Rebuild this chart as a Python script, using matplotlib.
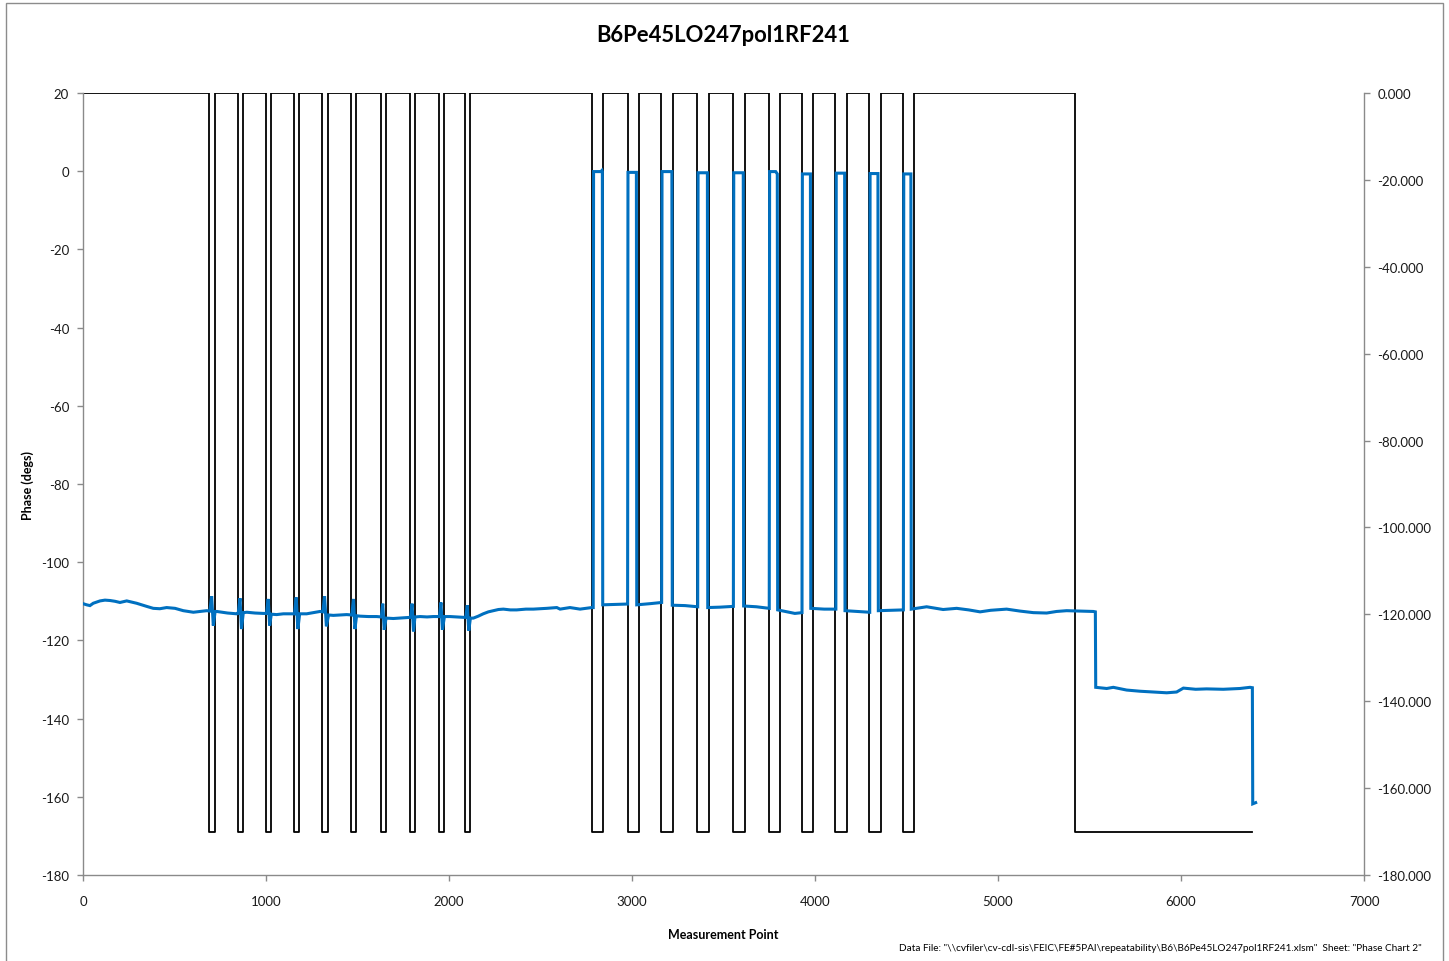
import matplotlib
matplotlib.use("Agg")
import matplotlib.pyplot as plt
from matplotlib.patches import Rectangle
from matplotlib.ticker import FormatStrFormatter

plt.rcParams['font.family'] = ['Lato', 'DejaVu Sans']
plt.rcParams['axes.unicode_minus'] = False

# ---------------- data ----------------
title = "B6Pe45LO247pol1RF241"
x_label = "Measurement Point"
y_label = "Phase (degs)"
footer = ('Data File: "\\\\cvfiler\\cv-cdl-sis\\FEIC\\FE#5PAI\\repeatability\\B6\\'
          'B6Pe45LO247pol1RF241.xlsm"  Sheet: "Phase Chart 2"')

# secondary (right axis) square wave: low intervals (start, end)
switch_high = 0.0
switch_low = -170.0
switch_low_start = [690, 845, 1000, 1153, 1308, 1466, 1627, 1787, 1945, 2089,
                    2783, 2976, 3160, 3357, 3552, 3750, 3927, 4111, 4297, 4479,
                    5421]
switch_low_end = [723, 874, 1027, 1182, 1340, 1493, 1654, 1812, 1973, 2115,
                  2843, 3038, 3226, 3419, 3617, 3809, 3991, 4177, 4359, 4541,
                  6388]

# primary (left axis) phase trace
phase_x = [0, 20, 38, 56, 93, 120, 148, 175, 202, 239, 265, 293, 320, 348, 384,
           420, 457, 480, 503, 548, 603, 640, 676,
           693, 703, 712, 722, 731, 790, 840,
           848, 858, 866, 876, 895, 940, 985,
           1003, 1012, 1020, 1029, 1058, 1095, 1131,
           1156, 1165, 1174, 1184, 1222, 1260, 1295,
           1311, 1320, 1330, 1342, 1368, 1405, 1441,
           1469, 1478, 1486, 1495, 1514, 1560, 1605,
           1630, 1638, 1646, 1656, 1696, 1730, 1769,
           1790, 1798, 1806, 1814, 1842, 1880, 1914,
           1948, 1956, 1964, 1975, 2005, 2040, 2078,
           2092, 2100, 2108, 2117, 2133, 2160, 2187, 2215, 2242, 2270, 2297,
           2335, 2370, 2420, 2461, 2500, 2534, 2589, 2607, 2661, 2716, 2780,
           2788, 2790, 2830, 2836, 2838, 2840, 2900, 2976,
           2978, 3024, 3026, 3100, 3162,
           3164, 3218, 3220, 3290, 3359,
           3361, 3412, 3414, 3480, 3554,
           3556, 3608, 3610, 3680, 3750,
           3752, 3785, 3794, 3796, 3860, 3890, 3929,
           3931, 3975, 3977, 4050, 4114,
           4116, 4162, 4164, 4230, 4299,
           4301, 4344, 4346, 4420, 4483,
           4485, 4524, 4526, 4610, 4700, 4774, 4840, 4902, 4960, 5047, 5120,
           5193, 5266, 5320, 5375, 5450, 5521, 5532,
           5534, 5594, 5630, 5703, 5776, 5849, 5922, 5976, 6013, 6080, 6140,
           6231, 6322, 6377, 6390, 6392, 6408]
phase_y = [-110.6, -110.9, -111.1, -110.5, -109.9, -109.7, -109.8, -110.0, -110.3,
           -109.9, -110.2, -110.5, -110.9, -111.3, -111.8, -111.9, -111.6, -111.7,
           -111.8, -112.4, -112.8, -112.6, -112.4,
           -112.5, -108.7, -116.2, -112.6, -112.6, -113.0, -113.2,
           -113.1, -109.2, -117.1, -112.9, -112.8, -113.0, -113.1,
           -113.1, -109.4, -116.2, -113.3, -113.4, -113.2, -113.2,
           -113.2, -109.0, -117.1, -113.2, -113.2, -112.9, -112.6,
           -112.7, -108.7, -116.4, -113.5, -113.6, -113.5, -113.4,
           -113.5, -109.4, -117.1, -113.7, -113.8, -113.9, -113.9,
           -114.0, -110.6, -117.3, -114.3, -114.4, -114.3, -114.2,
           -114.1, -110.6, -117.7, -114.0, -113.9, -114.0, -113.9,
           -113.9, -110.3, -117.3, -113.9, -113.9, -114.0, -114.1,
           -114.1, -111.0, -117.5, -114.3, -114.3, -113.8, -113.2, -112.7, -112.4,
           -112.1, -112.0, -112.2, -112.2, -112.0, -112.0, -111.9, -111.8, -111.6,
           -112.0, -111.6, -112.0, -111.6,
           -111.6, -0.1, -0.1, 0.2, -0.1, -110.9, -110.8, -110.7,
           -0.3, -0.3, -110.9, -110.6, -110.3,
           -0.1, -0.1, -111.0, -111.1, -111.4,
           -0.4, -0.4, -111.6, -111.5, -111.3,
           -0.4, -0.4, -111.2, -111.4, -111.8,
           -0.1, -0.1, -0.7, -112.2, -112.8, -113.1, -112.9,
           -0.7, -0.7, -111.8, -112.0, -112.0,
           -0.5, -0.5, -112.4, -112.6, -112.8,
           -0.6, -0.6, -112.4, -112.3, -112.2,
           -0.7, -0.7, -112.0, -111.4, -112.1, -111.8, -112.2, -112.7, -112.3,
           -112.0, -112.5, -112.9, -113.0, -112.6, -112.4, -112.5, -112.6, -112.7,
           -132.0, -132.3, -132.0, -132.7, -133.0, -133.2, -133.4, -133.2, -132.2,
           -132.5, -132.4, -132.5, -132.3, -132.0, -132.1, -161.8, -161.5]

x_ticks = [0, 1000, 2000, 3000, 4000, 5000, 6000, 7000]
left_ticks = [-180, -160, -140, -120, -100, -80, -60, -40, -20, 0, 20]
right_ticks = [-180, -160, -140, -120, -100, -80, -60, -40, -20, 0]

# ---------------- build square wave ----------------
sw_x = [0]
sw_y = [switch_high]
for i, (s, e) in enumerate(zip(switch_low_start, switch_low_end)):
    sw_x += [s, s, e]
    sw_y += [switch_high, switch_low, switch_low]
    if i < len(switch_low_start) - 1:
        sw_x.append(e)
        sw_y.append(switch_high)

# ---------------- figure ----------------
W, H = 1449, 962
fig = plt.figure(figsize=(W / 100, H / 100), dpi=100)
fig.patch.set_facecolor('white')

L, R, T, B = 83, 1364, 94, 876
ax = fig.add_axes([L / W, 1 - B / H, (R - L) / W, (B - T) / H])
ax2 = ax.twinx()

axis_col = '#8a8a8a'
text_col = '#1a1a1a'

ax.plot(phase_x, phase_y, color='#0070C0', lw=2.2, solid_joinstyle='miter', zorder=3)
ax2.plot(sw_x, sw_y, color='black', lw=1.3, zorder=2)

ax.set_zorder(ax2.get_zorder() + 1)
ax.patch.set_visible(False)

ax.set_xlim(0, 7000)
ax.set_ylim(-180, 20)
ax2.set_ylim(-180, 0)
ax.set_xticks(x_ticks)
ax.set_yticks(left_ticks)
ax2.set_yticks(right_ticks)
ax2.yaxis.set_major_formatter(FormatStrFormatter('%.3f'))

for a in (ax, ax2):
    for sp in a.spines.values():
        sp.set_color(axis_col)
        sp.set_linewidth(1.0)
    a.spines['top'].set_visible(False)

ax.spines['right'].set_visible(False)
ax2.spines['left'].set_visible(False)
ax2.spines['bottom'].set_visible(False)

ax.tick_params(axis='y', direction='out', length=4, width=1, color=axis_col,
               labelsize=9.5, labelcolor=text_col, pad=6)
ax.tick_params(axis='x', direction='out', length=4, width=1, color=axis_col,
               labelsize=9.5, labelcolor=text_col, pad=10.5)
ax2.tick_params(axis='y', direction='out', length=4, width=1, color=axis_col,
                labelsize=9.5, labelcolor=text_col, pad=5.5)

fig.text(723.5 / W, 1 - 36 / H, title, ha='center', va='center',
         fontsize=15.8, fontweight='bold', color='black')
fig.text(28 / W, 1 - 486 / H, y_label, ha='center', va='center', rotation=90,
         fontsize=9, fontweight='bold', color='black')
fig.text(723.5 / W, 1 - 935 / H, x_label, ha='center', va='center',
         fontsize=9, fontweight='bold', color='black')
fig.text(1422 / W, 1 - 949 / H, footer, ha='right', va='center',
         fontsize=7.2, color='black')

# outer chart frame
fig.patches.append(Rectangle((6 / W, -0.02), 1437 / W, (H - 4) / H + 0.02,
                             transform=fig.transFigure, fill=False,
                             edgecolor='#8c8c8c', lw=1.0))

fig.savefig('out.png', dpi=100)
